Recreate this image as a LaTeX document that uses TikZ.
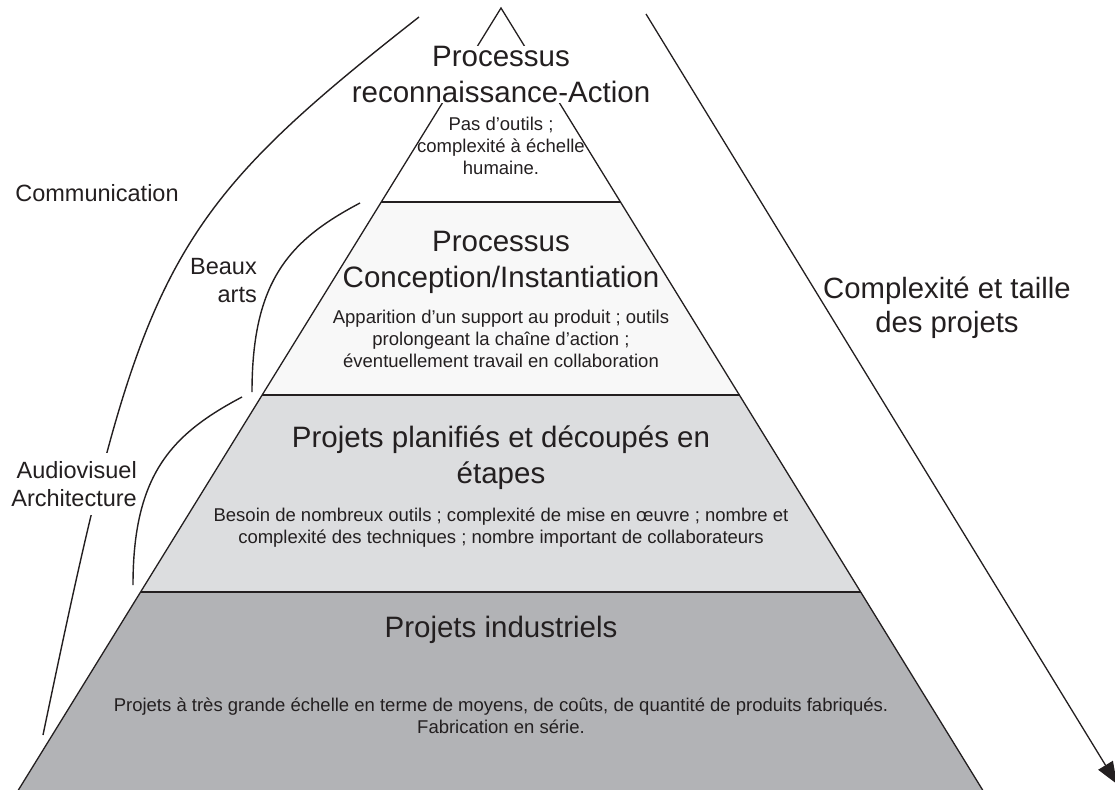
\documentclass[tikz,border=0pt]{standalone}
\usepackage{fontspec}
\setmainfont{Liberation Sans}
\usetikzlibrary{
    arrows.meta,
    calc,
    positioning,
}
\definecolor{encre}{HTML}{231F20}
\definecolor{niveauB}{HTML}{F8F8F8}
\definecolor{niveauC}{HTML}{DCDDDF}
\definecolor{niveauD}{HTML}{B2B3B6}
\tikzstyle{titre}=[font=\fontsize{29.5}{36}\selectfont,align=center,text=encre,inner sep=0pt]
\tikzstyle{detail}=[font=\fontsize{18.5}{22}\selectfont,align=center,text=encre,inner sep=0pt]
\tikzstyle{cote}=[font=\fontsize{23.5}{28}\selectfont,text=encre,inner sep=2pt]
\tikzstyle{bord}=[draw=encre,line width=1.3pt]
\tikzstyle{palier}=[draw=encre,line width=1.8pt]
\tikzstyle{accolade}=[draw=encre,line width=1.4pt]
\tikzstyle{fleche}=[draw=encre,line width=1.3pt,-{Triangle[length=22pt,width=17pt]}]

\begin{document}
\begin{tikzpicture}[x=1pt,y=-1pt]
                \useasboundingbox (0,0) rectangle (1115,789);
                % pyramide
                \coordinate (sommet) at (501,8);
                \coordinate (g1) at (381.4,202);
                \coordinate (d1) at (620.6,202);
                \coordinate (g2) at (262.4,395);
                \coordinate (d2) at (739.6,395);
                \coordinate (g3) at (141,592);
                \coordinate (d3) at (861,592);
                \coordinate (g4) at (15.3,795);
                \coordinate (d4) at (985.7,795);
                \fill[niveauB] (g1) -- (d1) -- (d2) -- (g2) -- cycle;
                \fill[niveauC] (g2) -- (d2) -- (d3) -- (g3) -- cycle;
                \fill[niveauD] (g3) -- (d3) -- (d4) -- (g4) -- cycle;
                \draw[bord] (g4) -- (sommet) -- (d4);
                \draw[palier] (g1) -- (d1);
                \draw[palier] (g2) -- (d2);
                \draw[palier] (g3) -- (d3);

                \node[titre,fill=white] (titre1) at (501,74.5) {Processus\\reconnaissance-Action};
                \node[detail] (detail1) at (501,145.5) {Pas d’outils ;\\complexité à échelle\\humaine.};
                \node[titre] (titre2) at (501,262) {Processus\\Conception/Instantiation};
                \node[detail] (detail2) at (501,338.5) {Apparition d’un support au produit ; outils\\prolongeant la chaîne d’action ;\\éventuellement travail en collaboration};
                \node[titre] (titre3) at (501,458) {Projets planifiés et découpés en\\étapes};
                \node[detail] (detail3) at (501,527.5) {Besoin de nombreux outils ; complexité de mise en œuvre ; nombre et\\complexité des techniques ; nombre important de collaborateurs};
                \node[titre] (titre4) at (501,630) {Projets industriels};
                \node[detail] (detail4) at (501,716) {Projets à très grande échelle en terme de moyens, de coûts, de quantité de produits fabriqués.\\Fabrication en série.};

                % domaines
                \coordinate (com bas) at (43,735);
                \coordinate (com haut) at (419,17);
                \draw[accolade] (com bas) .. controls (140,270) and (160,220) .. (com haut);
                \node[cote] (communication) at (97,193.5) {Communication};
                \node[cote,align=right,anchor=east,fill=white,inner ysep=8pt] (audiovisuel) at (139,484) {Audiovisuel\\Architecture};
                \node[cote,align=right,anchor=east] (beaux) at (259,280.5) {Beaux\\arts};
                \coordinate (ba haut) at (360,203);
                \coordinate (ba bas) at (252,392);
                \draw[accolade] (ba haut) .. controls (290,240) and (252,280) .. (ba bas);
                \coordinate (av haut) at (242,397);
                \coordinate (av bas) at (133,585);
                \draw[accolade] (av haut) .. controls (172,434) and (133,474) .. (av bas);

                % complexite
                \coordinate (depart) at (646,14);
                \coordinate (arrivee) at (1117,784);
                \draw[fleche] (depart) -- (arrivee);
                \node[titre,font=\fontsize{29.3}{34}\selectfont] (complexite) at (947,307.5) {Complexité et taille\\des projets};
\end{tikzpicture}
\end{document}
